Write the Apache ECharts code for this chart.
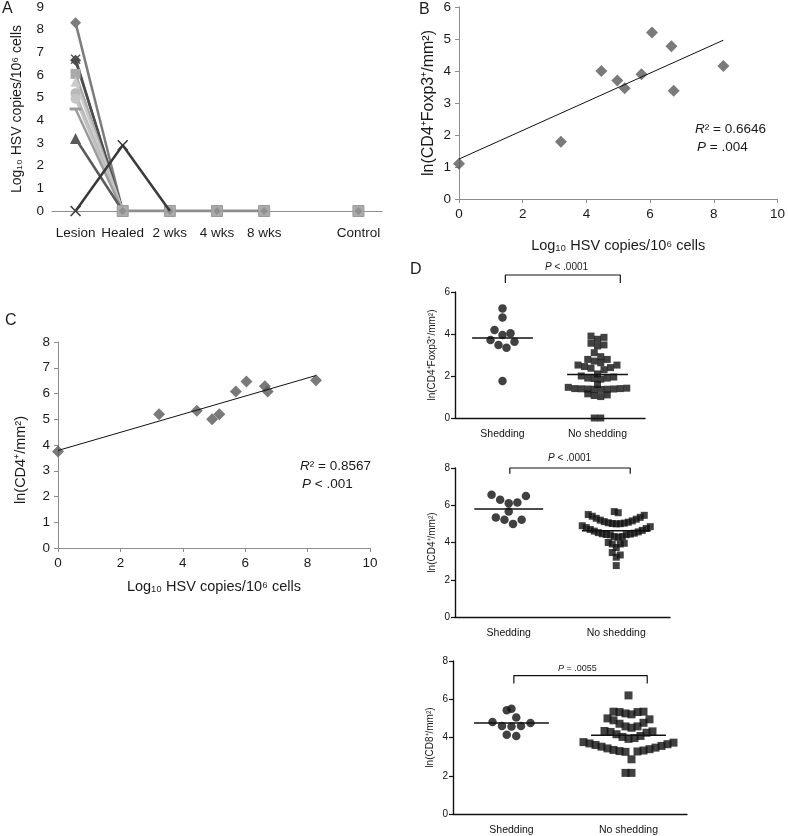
<!DOCTYPE html>
<html>
<head>
<meta charset="utf-8">
<script src="https://cdn.jsdelivr.net/npm/echarts@6/dist/echarts.min.js"></script>
<style>
  html, body { margin: 0; background: #fff; }
  #main { width: 788px; height: 836px; }
</style>
</head>
<body>
<div id="main"></div>
<script>
// ---- panel A: viral load by time point ----
const timepoints = ['Lesion', 'Healed', '2 wks', '4 wks', '8 wks', '', 'Control'];
// one row per patient: Lesion, Healed (, 2 wks)
const patientCopies = [
  [8.3, 0], [6.7, 0], [6.65, 0], [6.05, 0], [5.7, 0],
  [5.2, 0], [4.95, 0], [4.5, 0], [3.2, 0], [0, 2.9, 0]
];
const followUpCopies = [null, 0, 0, 0, 0, null, 0];

// ---- panels B, C: regressions against lesion HSV ----
const hsvLogB = [0, 3.2, 4.47, 4.97, 5.2, 5.73, 6.06, 6.67, 6.74, 8.3];
const tregLn = [1.1, 1.79, 4.0, 3.7, 3.46, 3.9, 5.2, 4.77, 3.38, 4.16];
const hsvLogC = [0, 3.24, 4.45, 4.94, 5.17, 5.7, 6.04, 6.63, 6.72, 8.27];
const cd4Ln = [3.75, 5.19, 5.33, 5.0, 5.19, 6.08, 6.47, 6.28, 6.08, 6.51];

// ---- panel D: shedding vs no shedding ----
const groups = ['Shedding', 'No shedding'];
const shedTreg = [5.22, 4.79, 4.19, 4.03, 3.95, 3.71, 3.63, 3.48, 3.35, 1.76];
const noShedTreg = [0, 0, 1.02, 1.07, 1.1, 1.15, 1.36, 1.37, 1.37, 1.38, 1.38, 1.39, 1.4, 1.4,
  1.42, 1.46, 1.6, 1.85, 1.88, 1.9, 1.9, 1.95, 2.0, 2.1, 2.3, 2.37, 2.4, 2.45, 2.52, 2.52,
  2.63, 2.71, 2.79, 2.79, 2.92, 3.11, 3.43, 3.48, 3.56, 3.75, 3.84, 3.9];
const shedCD4 = [6.56, 6.5, 6.29, 6.15, 6.11, 5.66, 5.34, 5.22, 5.22, 5.0];
const noShedCD4 = [2.76, 3.21, 3.33, 3.46, 3.73, 3.92, 3.92, 3.96, 4.0, 4.28, 4.32, 4.32,
  4.41, 4.42, 4.43, 4.45, 4.47, 4.5, 4.53, 4.57, 4.61, 4.65, 4.7, 4.75, 4.8, 4.85, 4.9,
  5.0, 5.01, 5.02, 5.04, 5.06, 5.09, 5.12, 5.16, 5.2, 5.25, 5.3, 5.35, 5.41, 5.46, 5.5,
  5.6, 5.66];
const shedCD8 = [5.5, 5.42, 5.04, 4.81, 4.76, 4.6, 4.6, 4.58, 4.15, 4.08];
const noShedCD8 = [2.15, 2.15, 2.86, 3.25, 3.27, 3.29, 3.32, 3.35, 3.39, 3.43, 3.47, 3.52,
  3.56, 3.61, 3.65, 3.69, 3.73, 3.76, 3.93, 3.97, 4.03, 4.08, 4.17, 4.25, 4.29, 4.32, 4.34,
  4.51, 4.58, 4.58, 4.72, 4.77, 4.9, 4.95, 5.0, 5.21, 5.26, 5.33, 5.33, 5.35, 5.35, 6.2];

const FONT = '"Liberation Sans", Arial, sans-serif';
const TXT = '#1a1a1a';
const XMARK = 'path://M0,1L1,0L5,4L9,0L10,1L6,5L10,9L9,10L5,6L1,10L0,9L4,5Z';

// marker look per patient in panel A
const patientStyle = [
  { symbol: 'diamond', color: '#7d7d7d', size: 11 },
  { symbol: XMARK, color: '#555', size: 10 },
  { symbol: 'diamond', color: '#4d4d4d', size: 11 },
  { symbol: 'rect', color: '#a9a9a9', size: 10 },
  { symbol: 'triangle', color: '#cacaca', size: 10 },
  { symbol: 'circle', color: '#b8b8b8', size: 10 },
  { symbol: 'circle', color: '#c4c4c4', size: 10 },
  { symbol: 'rect', color: '#9c9c9c', size: [12, 3] },
  { symbol: 'triangle', color: '#5a5a5a', size: 11 },
  { symbol: XMARK, color: '#3a3a3a', size: 11 }
];

const chart = echarts.init(document.getElementById('main'));

// least squares fit, drawn from 0 to max x
function fitLine(xs, ys) {
  const n = xs.length;
  const mx = xs.reduce((a, b) => a + b) / n;
  const my = ys.reduce((a, b) => a + b) / n;
  let sxy = 0, sxx = 0;
  xs.forEach((x, i) => { sxy += (x - mx) * (ys[i] - my); sxx += (x - mx) * (x - mx); });
  const k = sxy / sxx, b = my - k * mx;
  const x1 = Math.max(...xs);
  return [[0, b], [x1, k * x1 + b]];
}

// column scatter: group close values into rows, spread each row sideways,
// lowest value in the middle (gives the Prism-like smile rows)
function columnScatter(values, center, pxY, pxX, rowPx, step, gap) {
  const sorted = values.slice().sort((a, b) => a - b);
  const rows = [];
  let row = null;
  sorted.forEach((v, i) => {
    if (row && ((v - row[0]) * pxY < rowPx || v - sorted[i - 1] < gap)) row.push(v);
    else { row = [v]; rows.push(row); }
  });
  const out = [];
  rows.forEach(r => {
    const n = r.length;
    r.forEach((v, j) => {
      let slot;
      if (n % 2) slot = j === 0 ? 0 : (j % 2 ? 1 : -1) * Math.ceil(j / 2);
      else slot = (j % 2 ? -1 : 1) * (Math.floor(j / 2) + 0.5);
      out.push([center + slot * step / pxX, v]);
    });
  });
  return out;
}
const mean = arr => arr.reduce((a, b) => a + b) / arr.length;

const grids = [
  { left: 52, top: 7, width: 330, height: 204 },   // A
  { left: 459, top: 4, width: 320, height: 195 },  // B
  { left: 58, top: 342, width: 312, height: 206 }, // C
  { left: 455, top: 292, width: 190, height: 126 },// D1
  { left: 455, top: 468, width: 215, height: 149 },// D2
  { left: 453, top: 661, width: 234, height: 153 } // D3
];

const greyAxis = {
  axisLine: { lineStyle: { color: '#8c8c8c', width: 1 } },
  axisTick: { length: 4, lineStyle: { color: '#8c8c8c' } },
  axisLabel: { color: TXT, fontSize: 13.5, fontFamily: FONT },
  splitLine: { show: false }
};
const blackAxis = {
  axisLine: { lineStyle: { color: '#111', width: 1.4 } },
  axisTick: { length: 4, lineStyle: { color: '#111', width: 1.2 } },
  axisLabel: { color: '#111', fontSize: 10, fontFamily: FONT, margin: 5 },
  splitLine: { show: false }
};
const axisName = (size, pad) => ({ color: TXT, fontSize: size, fontFamily: FONT, padding: pad || 0 });

const xAxis = [
  Object.assign({}, greyAxis, { gridIndex: 0, type: 'category', data: timepoints,
    axisTick: { length: 4, interval: 0, lineStyle: { color: '#8c8c8c' } },
    axisLabel: Object.assign({}, greyAxis.axisLabel, { interval: 0, margin: 15 }) }),
  Object.assign({}, greyAxis, { gridIndex: 1, type: 'value', min: 0, max: 10, interval: 2,
    name: 'Log₁₀ HSV copies/10⁶ cells', nameLocation: 'middle', nameGap: 39, nameTextStyle: axisName(14.5) }),
  Object.assign({}, greyAxis, { gridIndex: 2, type: 'value', min: 0, max: 10, interval: 2,
    name: 'Log₁₀ HSV copies/10⁶ cells', nameLocation: 'middle', nameGap: 31, nameTextStyle: axisName(14.5) })
];
const yAxis = [
  Object.assign({}, greyAxis, { gridIndex: 0, type: 'value', min: 0, max: 9, interval: 1,
    name: 'Log₁₀ HSV copies/10⁶ cells', nameLocation: 'middle', nameGap: 28, nameTextStyle: axisName(14) }),
  Object.assign({}, greyAxis, { gridIndex: 1, type: 'value', min: 0, max: 6, interval: 1,
    name: 'ln(CD4⁺Foxp3⁺/mm²)', nameLocation: 'middle', nameGap: 22, nameTextStyle: axisName(16) }),
  Object.assign({}, greyAxis, { gridIndex: 2, type: 'value', min: 0, max: 8, interval: 1,
    name: 'ln(CD4⁺/mm²)', nameLocation: 'middle', nameGap: 30, nameTextStyle: axisName(14.5, [0, 30, 0, 0]) })
];

const series = [];

// panel A
series.push({
  type: 'line', xAxisIndex: 0, yAxisIndex: 0, data: followUpCopies, connectNulls: false,
  symbol: 'rect', symbolSize: 11, z: 3,
  lineStyle: { color: '#8e8e8e', width: 3 },
  itemStyle: { color: '#ababab', borderColor: '#9a9a9a', borderWidth: 1 }
});
series.push({
  type: 'scatter', xAxisIndex: 0, yAxisIndex: 0, data: followUpCopies,
  symbol: 'diamond', symbolSize: 8, z: 4, itemStyle: { color: '#8a8a8a' }
});
patientCopies.forEach((row, i) => {
  const st = patientStyle[i];
  series.push({
    type: 'line', xAxisIndex: 0, yAxisIndex: 0, z: 2 + (i === 9 ? 3 : 0),
    symbol: st.symbol, symbolSize: st.size, showSymbol: true,
    lineStyle: { color: st.color, width: 2.5 },
    itemStyle: { color: st.color },
    // only the first point carries the patient marker
    data: row.map((v, j) => j === 0 || (i === 9 && j === 1) ? v : { value: v, symbol: 'none' })
  });
});

// panels B and C
[[hsvLogB, tregLn, 1], [hsvLogC, cd4Ln, 2]].forEach(([xs, ys, g]) => {
  series.push({
    type: 'scatter', xAxisIndex: g, yAxisIndex: g, symbol: 'diamond', symbolSize: 12,
    itemStyle: { color: '#595959' }, data: xs.map((x, i) => [x, ys[i]])
  });
  series.push({
    type: 'line', xAxisIndex: g, yAxisIndex: g, data: fitLine(xs, ys), symbol: 'none',
    lineStyle: { color: '#111', width: 1 }
  });
});

// panel D
const dPanels = [
  { shed: shedTreg, none: noShedTreg, max: 6, name: 'ln(CD4⁺Foxp3⁺/mm²)', sq: 7, row: 4.5, step: 6.5, cstep: 8, bracket: [0.53, 1.74, 6.43, 6.81] },
  { shed: shedCD4, none: noShedCD4, max: 8, name: 'ln(CD4⁺/mm²)', sq: 7, row: 7, step: 4, cstep: 8.6, bracket: [0.51, 1.63, 7.69, 8.0] },
  { shed: shedCD8, none: noShedCD8, max: 8, name: 'ln(CD8⁺/mm²)', sq: 8, row: 8, step: 6, cstep: 9.5, bracket: [0.52, 1.66, 6.82, 7.24] }
];
dPanels.forEach((p, k) => {
  const g = 3 + k;
  const grid = grids[g];
  xAxis.push(Object.assign({}, blackAxis, { gridIndex: g, type: 'category', data: groups,
    axisTick: { alignWithLabel: true, length: 5, lineStyle: { color: '#111', width: 1.2 } },
    axisLabel: Object.assign({}, blackAxis.axisLabel, { margin: 11, fontSize: 10.5 }) }));
  const xVal = xAxis.length;
  xAxis.push({ gridIndex: g, type: 'value', min: 0, max: 2, show: false });
  yAxis.push(Object.assign({}, blackAxis, { gridIndex: g, type: 'value', min: 0, max: p.max, interval: 2,
    axisTick: { length: 4, lineStyle: { color: '#111', width: 1.2 } },
    name: p.name, nameLocation: 'middle', nameGap: 18, nameTextStyle: axisName(10) }));
  const yi = yAxis.length - 1;
  const pxY = grid.height / p.max, pxX = grid.width / 2;
  series.push({
    type: 'scatter', xAxisIndex: xVal, yAxisIndex: yi, symbol: 'circle', symbolSize: 8.5,
    itemStyle: { color: '#111' }, data: columnScatter(p.shed, 0.5, pxY, pxX, 8, p.cstep, 0.08)
  });
  series.push({
    type: 'scatter', xAxisIndex: xVal, yAxisIndex: yi, symbol: 'rect', symbolSize: p.sq,
    itemStyle: { color: '#111' }, data: columnScatter(p.none, 1.5, pxY, pxX, p.row, p.step, 0.08)
  });
  [[p.shed, 0.5], [p.none, 1.5]].forEach(([vals, c]) => {
    const m = mean(vals);
    series.push({
      type: 'line', xAxisIndex: xVal, yAxisIndex: yi, symbol: 'none', z: 5,
      lineStyle: { color: '#111', width: 1.5 }, data: [[c - 0.32, m], [c + 0.32, m]]
    });
  });
  const [x1, x2, yLo, yHi] = p.bracket;
  series.push({
    type: 'line', xAxisIndex: xVal, yAxisIndex: yi, symbol: 'none', clip: false,
    lineStyle: { color: '#111', width: 1.2 },
    data: [[x1, yLo], [x1, yHi], [x2, yHi], [x2, yLo]]
  });
});

const txt = (left, top, text, size) => ({
  type: 'text', left, top,
  style: { text, fill: TXT, font: `${size}px ${FONT}` }
});
function statText(left, top, text, size) {
  return {
    type: 'text', left, top,
    style: { text, fill: TXT, fontSize: size, fontFamily: FONT,
      rich: { i: { fontStyle: 'italic', fontSize: size, fontFamily: FONT, fill: TXT },
              n: { fontSize: size, fontFamily: FONT, fill: TXT } } }
  };
}

chart.setOption({
  animation: false,
  backgroundColor: '#fff',
  grid: grids,
  xAxis,
  yAxis,
  series,
  graphic: [
    txt(2, 1, 'A', 16),
    txt(419, 2, 'B', 16),
    txt(5, 313, 'C', 16),
    txt(410, 262, 'D', 16),
    statText(695, 122, '{i|R}{n|² = 0.6646}', 13.5),
    statText(697, 140, '{i|P}{n| = .004}', 13.5),
    statText(300, 459, '{i|R}{n|² = 0.8567}', 13.5),
    statText(302, 477, '{i|P}{n| < .001}', 13.5),
    statText(545, 262, '{i|P}{n| < .0001}', 10),
    statText(548, 453, '{i|P}{n| < .0001}', 10),
    statText(558, 664, '{i|P}{n| = .0055}', 9)
  ]
});
</script>
</body>
</html>
